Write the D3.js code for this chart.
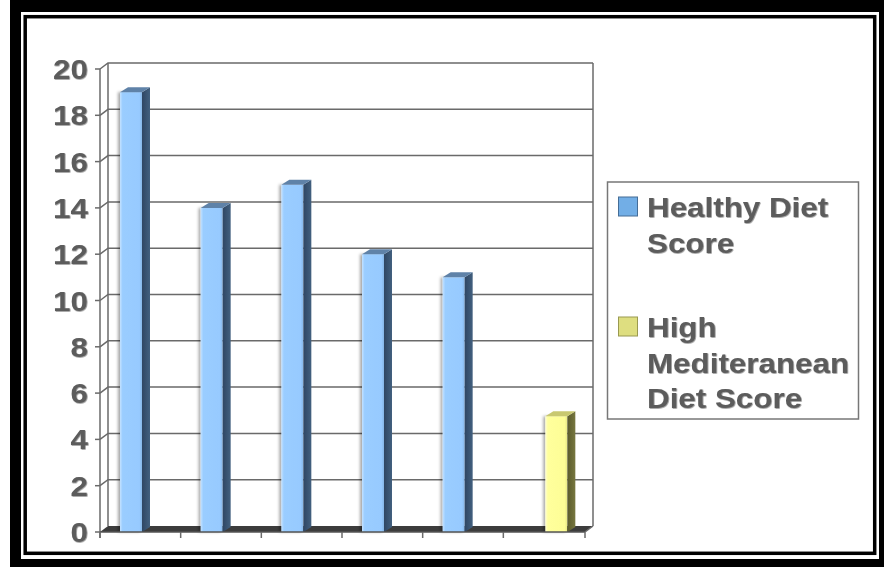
<!DOCTYPE html>
<html>
<head>
<meta charset="utf-8">
<script src="https://cdn.jsdelivr.net/npm/d3@7"></script>
<style>
  body { margin: 0; background: #fff; }
  svg { display: block; }
  text { font-family: "Liberation Sans", Arial, sans-serif; font-weight: bold; }
</style>
</head>
<body>
<svg id="chart" width="884" height="567"></svg>
<script>
// data
var categories = ["G1", "G2", "G3", "G4", "G5", "G6"];
var seriesNames = ["Healthy Diet Score", "High Mediteranean Diet Score"];
var healthyValues = [19, 14, 15, 12, 11, null];
var mediterraneanValues = [null, null, null, null, null, 5];
var yTicks = [0, 2, 4, 6, 8, 10, 12, 14, 16, 18, 20];
var legendLines = [["Healthy Diet", "Score"], ["High", "Mediteranean", "Diet Score"]];

var svg = d3.select("#chart");
var W = 884, H = 567;

// plot geometry (front plane)
var plot = { left: 100, right: 584, top: 69, bottom: 532 };
var wall = { dx: 8, dy: -6 };   // depth of walls
var depth = { dx: 8, dy: -5 };  // depth of bars
var sx = 1.12;                  // horizontal text stretch

var x = d3.scaleBand().domain(categories).range([plot.left, plot.right]);
var xs = d3.scaleBand().domain(seriesNames).range([20, 64]);
var y = d3.scaleLinear().domain([0, 20]).range([plot.bottom, plot.top]);

var defs = svg.append("defs");
function grad(id, stops) {
  var g = defs.append("linearGradient").attr("id", id)
    .attr("x1", 0).attr("x2", 1).attr("y1", 0).attr("y2", 0);
  stops.forEach(function(s) {
    g.append("stop").attr("offset", s[0]).attr("stop-color", s[1]);
  });
}
grad("blueFront", [["0", "#c4e2ff"], ["0.12", "#9acdff"], ["0.88", "#97caff"], ["1", "#86b6e6"]]);
grad("blueSide", [["0", "#2f4663"], ["1", "#42607f"]]);
grad("yelFront", [["0", "#ffffd0"], ["0.12", "#ffff9c"], ["0.88", "#fdfd96"], ["1", "#e6e685"]]);
grad("yelSide", [["0", "#5a5a2c"], ["1", "#77773f"]]);
var sh = defs.append("filter").attr("id", "shadow").attr("x", "-30%").attr("width", "160%");
sh.append("feDropShadow").attr("dx", -2).attr("dy", 0).attr("stdDeviation", 1.5)
  .attr("flood-color", "#000").attr("flood-opacity", 0.35);
var ts = defs.append("filter").attr("id", "tshadow");
ts.append("feDropShadow").attr("dx", 0.6).attr("dy", 0.6).attr("stdDeviation", 0.6)
  .attr("flood-color", "#000").attr("flood-opacity", 0.55);

// frame
svg.append("rect").attr("x", 10).attr("y", 0).attr("width", W - 10).attr("height", H).attr("fill", "#000");
svg.append("rect").attr("x", 21).attr("y", 12).attr("width", 858).attr("height", 547).attr("fill", "#fff");
svg.append("rect").attr("x", 25.2).attr("y", 16.7).attr("width", 849.5).attr("height", 536.6)
  .attr("fill", "none").attr("stroke", "#000").attr("stroke-width", 3.5);

var lineColor = "#6a6a6a";
var g = svg.append("g");

// floor
var fl = plot.left, fr = x.range()[1] + 1;
g.append("path")
  .attr("d", "M" + fl + "," + plot.bottom + "L" + (fl + wall.dx) + "," + (plot.bottom + wall.dy) +
    "L" + (fr + wall.dx) + "," + (plot.bottom + wall.dy) + "L" + fr + "," + plot.bottom + "Z")
  .attr("fill", "#3c3c3c");

// gridlines on side + back wall
g.selectAll(".grid").data(yTicks.slice(1)).enter().append("polyline")
  .attr("class", "grid")
  .attr("points", function(d) {
    return [[plot.left, y(d)], [plot.left + wall.dx, y(d) + wall.dy], [fr + wall.dx, y(d) + wall.dy]].join(" ");
  })
  .attr("fill", "none").attr("stroke", lineColor).attr("stroke-width", 1.5);

// wall edges
g.append("line").attr("x1", plot.left + wall.dx).attr("x2", plot.left + wall.dx)
  .attr("y1", y(20) + wall.dy).attr("y2", plot.bottom + wall.dy)
  .attr("stroke", lineColor).attr("stroke-width", 1.5);
g.append("line").attr("x1", fr + wall.dx).attr("x2", fr + wall.dx)
  .attr("y1", y(20) + wall.dy).attr("y2", plot.bottom + wall.dy)
  .attr("stroke", lineColor).attr("stroke-width", 1.5);

// bars
var bars = [];
healthyValues.forEach(function(v, i) { if (v != null) bars.push({ c: categories[i], s: seriesNames[0], v: v, k: "blue" }); });
mediterraneanValues.forEach(function(v, i) { if (v != null) bars.push({ c: categories[i], s: seriesNames[1], v: v, k: "yel" }); });
var topCol = { blue: "#5f82a8", yel: "#c8c870" };

var bg = g.append("g");
bars.forEach(function(b) {
  var bx = x(b.c) + xs(b.s), bw = xs.bandwidth(), yt = y(b.v), yb = y(0);
  var one = bg.append("g");
  one.append("rect").attr("x", bx).attr("y", yt).attr("width", bw).attr("height", yb - yt)
    .attr("fill", "url(#" + b.k + "Front)").attr("filter", "url(#shadow)");
  one.append("path")
    .attr("d", "M" + (bx + bw) + "," + yt + "L" + (bx + bw + depth.dx) + "," + (yt + depth.dy) +
      "L" + (bx + bw + depth.dx) + "," + (yb + depth.dy) + "L" + (bx + bw) + "," + yb + "Z")
    .attr("fill", "url(#" + b.k + "Side)");
  one.append("path")
    .attr("d", "M" + bx + "," + yt + "L" + (bx + depth.dx) + "," + (yt + depth.dy) +
      "L" + (bx + bw + depth.dx) + "," + (yt + depth.dy) + "L" + (bx + bw) + "," + yt + "Z")
    .attr("fill", topCol[b.k]);
});

// front axes
g.append("line").attr("x1", plot.left).attr("x2", plot.left).attr("y1", y(20)).attr("y2", plot.bottom + 6)
  .attr("stroke", lineColor).attr("stroke-width", 1.5);
g.append("line").attr("x1", plot.left).attr("x2", fr).attr("y1", plot.bottom).attr("y2", plot.bottom)
  .attr("stroke", "#555").attr("stroke-width", 1.5);
g.append("line").attr("x1", fr).attr("x2", fr + wall.dx).attr("y1", plot.bottom).attr("y2", plot.bottom + wall.dy)
  .attr("stroke", lineColor).attr("stroke-width", 1.5);

// x ticks at category boundaries
var xb = categories.map(function(c) { return x(c); }).concat([fr]);
g.selectAll(".xtick").data(xb).enter().append("line")
  .attr("x1", function(d) { return d; }).attr("x2", function(d) { return d; })
  .attr("y1", plot.bottom).attr("y2", plot.bottom + 6)
  .attr("stroke", lineColor).attr("stroke-width", 1.5);

// y ticks + labels
g.selectAll(".ytick").data(yTicks).enter().append("line")
  .attr("x1", plot.left - 5).attr("x2", plot.left)
  .attr("y1", function(d) { return y(d); }).attr("y2", function(d) { return y(d); })
  .attr("stroke", lineColor).attr("stroke-width", 1.5);
g.selectAll(".ylab").data(yTicks).enter().append("text")
  .attr("transform", function(d) { return "translate(88," + (y(d) + 10) + ") scale(" + sx + ",1)"; })
  .attr("text-anchor", "end")
  .attr("font-size", 28)
  .attr("fill", "#5c5c5c")
  .attr("filter", "url(#tshadow)")
  .text(function(d) { return d; });

// legend
var lg = svg.append("g");
lg.append("rect").attr("x", 607.5).attr("y", 182).attr("width", 251).attr("height", 237)
  .attr("fill", "#fff").attr("stroke", "#777").attr("stroke-width", 1.5);
var swatch = [{ f: "#72aee6", s: "#456d96" }, { f: "#dede80", s: "#999950" }];
var legTop = [217, 337];
legendLines.forEach(function(lines, i) {
  lg.append("rect").attr("x", 618.5).attr("y", legTop[i] - 20).attr("width", 19).attr("height", 19)
    .attr("fill", swatch[i].f).attr("stroke", swatch[i].s).attr("stroke-width", 1);
  lines.forEach(function(t, j) {
    lg.append("text")
      .attr("transform", "translate(647," + (legTop[i] + j * 35.5) + ") scale(" + sx + ",1)")
      .attr("font-size", 28)
      .attr("fill", "#5c5c5c")
      .attr("filter", "url(#tshadow)")
      .text(t);
  });
});
</script>
</body>
</html>
